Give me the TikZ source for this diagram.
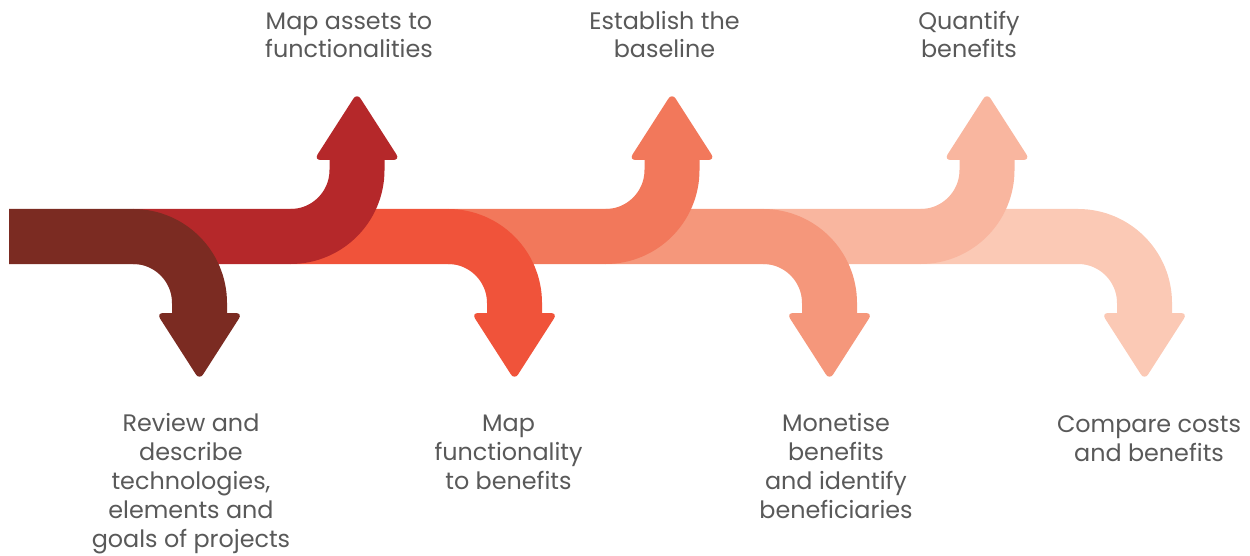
\documentclass[tikz,border=0pt]{standalone}
\usepackage{fontspec}
\setmainfont{Poppins}
\usetikzlibrary{calc}
\tikzset{>=stealth}
\definecolor{stepA}{HTML}{7B2B22}
\definecolor{stepB}{HTML}{B5282A}
\definecolor{stepC}{HTML}{F0533A}
\definecolor{stepD}{HTML}{F2785B}
\definecolor{stepE}{HTML}{F5977B}
\definecolor{stepF}{HTML}{F9B69F}
\definecolor{stepG}{HTML}{FBC9B5}
\definecolor{labelgray}{HTML}{595959}
\tikzset{
  band/.style={line width=41.25pt},
  head/.style={rounded corners=5pt},
  steplabel/.style={text=labelgray, font=\fontsize{17.9}{21.6}\selectfont, align=center, inner sep=0pt, anchor=base},
}

\begin{document}
\begin{tikzpicture}[x=0.75pt,y=0.75pt]
  \useasboundingbox (0,0) rectangle (1250,-556);

  % Draw the arrows, lightest one first
  \foreach \xs/\xc/\s/\a/\col in {920.5/1078/1/90/stepG, 763/920.5/-1/-90/stepF,
      605.5/763/1/90/stepE, 448/605.5/-1/-90/stepD, 290.5/448/1/90/stepC,
      133/290.5/-1/-90/stepB, 9/133/1/90/stepA} {
    \draw[band,\col] (\xs,-236.5) -- (\xc,-236.5)
      arc[start angle=\a, end angle=0, radius=66.5] -- ++(0,{-\s*11});
    \fill[head,\col] ({\xc+66.5-43},{-236.5-\s*76.5}) -- ({\xc+66.5+43},{-236.5-\s*76.5})
      -- ({\xc+66.5},{-236.5-\s*143.5}) -- cycle;
  }

  % labels, anchored at the baseline of their last line
  \node[steplabel] (review) at (191,-547) {Review and\\describe\\technologies,\\elements and\\goals of projects};
  \node[steplabel] (mapassets) at (349,-58) {Map assets to\\functionalities};
  \node[steplabel] (mapfunc) at (508.5,-489.5) {Map\\functionality\\to benefits};
  \node[steplabel] (baseline) at (664.5,-58) {Establish the\\baseline};
  \node[steplabel] (monetise) at (836,-518) {Monetise\\benefits\\and identify\\beneficiaries};
  \node[steplabel] (quantify) at (969,-58) {Quantify\\benefits};
  \node[steplabel] (compare) at (1149,-461) {Compare costs\\and benefits};

\end{tikzpicture}
\end{document}
